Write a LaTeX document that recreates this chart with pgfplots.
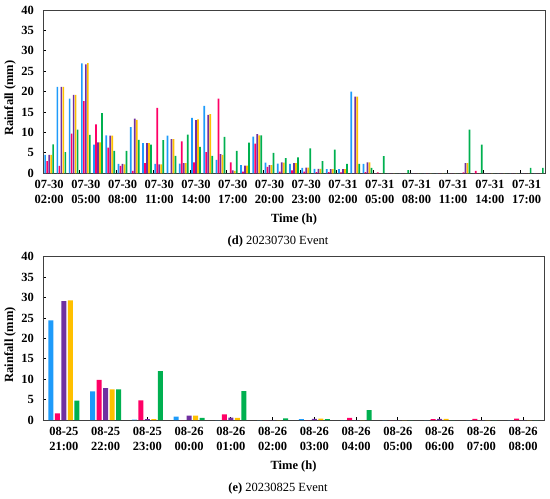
\documentclass[border=0pt]{standalone}
\usepackage{pgfplots}
\pgfplotsset{compat=1.18}
\usepackage{pgfplotstable}
\usepackage{fontspec}
\setmainfont{Liberation Serif}

\definecolor{cblue}{RGB}{30,155,250}
\definecolor{cmag}{RGB}{255,0,102}
\definecolor{cpur}{RGB}{112,48,160}
\definecolor{cora}{RGB}{255,192,0}
\definecolor{cgre}{RGB}{0,176,80}

\pgfplotstableread{
x b m p o g
0 4.5 3.0 4.5 4.5 7.1
1 21.2 1.8 21.2 21.2 5.2
2 18.3 9.75 19.2 19.2 10.7
3 26.9 17.7 26.7 27.0 9.4
4 7.0 12.0 7.6 7.6 14.75
5 9.3 6.3 9.2 9.2 5.5
6 2.3 1.8 2.3 2.2 5.5
7 11.3 0.6 13.4 13.1 8.2
8 7.4 2.5 7.4 7.4 7.0
9 2.3 16.0 2.2 2.2 8.1
10 9.2 0 8.4 8.4 4.3
11 2.4 7.8 2.5 2.5 9.5
12 13.6 2.7 13.0 13.2 6.5
13 16.5 5.2 14.3 14.5 4.3
14 3.3 18.3 4.7 4.5 8.9
15 0 2.7 0.7 0.6 5.5
16 2.0 0.4 1.9 1.9 7.5
17 9.0 7.3 9.6 9.3 9.3
18 2.6 1.6 2.0 2.0 5.0
19 2.4 0.4 2.7 2.6 3.7
20 2.3 0.7 2.5 2.5 3.9
21 1.3 0.4 1.4 1.4 6.1
22 1.1 0.3 1.1 1.1 3.0
23 1.0 0.3 1.0 1.0 5.8
24 1.0 0.2 1.0 1.0 2.3
25 20.0 0 18.8 18.8 2.3
26 2.3 0.3 2.7 2.7 1.3
27 0 0.25 0 0 4.2
28 0 0 0 0 0
29 0 0 0 0 0.8
30 0 0 0 0 0
31 0 0 0 0 0
32 0 0 0 0 0
33 0 0 0 0 0
34 0 0.2 2.5 2.5 10.7
35 0 0.6 0 0 7.0
36 0 0 0 0 0
37 0 0 0 0 0
38 0 0 0 0 0
39 0 0 0 0 1.3
40 0 0 0 0 1.3
}\dataD

\pgfplotstableread{
x b m p o g
0 24.4 1.6 29.1 29.3 4.75
1 7.0 9.8 7.8 7.5 7.5
2 0.1 4.8 0.2 0.2 12.0
3 0.8 0 1.05 1.1 0.5
4 0 1.4 0.6 0.5 7.1
5 0 0 0 0 0.4
6 0.2 0 0.3 0.35 0.2
7 0 0.5 0 0 2.4
8 0 0 0 0 0
9 0 0.2 0.3 0.3 0
10 0 0.25 0 0 0
11 0 0.35 0 0 0
}\dataE

\pgfplotsset{
  panel/.style={
    scale only axis, height=163.3pt,
    ymin=0, ymax=40, ytick={0,5,...,40},
    ybar,
    tick align=inside, tick pos=left,
    major tick length=3pt,
    axis line style={black!75, line width=0.8pt},
    tick style={black, line width=0.8pt},
    ticklabel style={font=\fontsize{12.5}{15}\selectfont\bfseries},
    /pgf/number format/assume math mode=true,
    yticklabel style={inner sep=0pt, xshift=-9pt},
    xticklabel style={align=center, inner sep=0pt, yshift=-7pt},
    xlabel={Time (h)}, ylabel={Rainfall (mm)},
    label style={font=\fontsize{12.5}{15}\selectfont\bfseries},
    xlabel style={at={(axis description cs:0.5,-0.282)}, anchor=center},
    ylabel style={at={(axis description cs:-0.0657,0.46)}, anchor=center},
  }
}

\begin{document}
\begin{tikzpicture}
\path[use as bounding box] (0,0) rectangle (550pt,-499pt);

\begin{axis}[panel, width=502pt, at={(43pt,-173.3pt)}, anchor=south west,
  xmin=-0.5, xmax=40.5, bar width=1.7pt,
  xtick={2.5,5.5,...,38.5}, xticklabels={},
  extra x ticks={0,3,...,39},
  extra x tick style={major tick length=0pt},
  extra x tick labels={{07-30\\02:00},{07-30\\05:00},{07-30\\08:00},{07-30\\11:00},{07-30\\14:00},{07-30\\17:00},{07-30\\20:00},{07-30\\23:00},{07-31\\02:00},{07-31\\05:00},{07-31\\08:00},{07-31\\11:00},{07-31\\14:00},{07-31\\17:00}},
]
\addplot[fill=cblue, draw=none, bar shift=-4pt] table[x=x,y=b]{\dataD};
\addplot[fill=cmag, draw=none, bar shift=-2pt] table[x=x,y=m]{\dataD};
\addplot[fill=cpur, draw=none, bar shift=0pt] table[x=x,y=p]{\dataD};
\addplot[fill=cora, draw=none, bar shift=2pt] table[x=x,y=o]{\dataD};
\addplot[fill=cgre, draw=none, bar shift=4pt] table[x=x,y=g]{\dataD};
\end{axis}

\node[font=\fontsize{12.5}{15}\selectfont] at (278pt,-241pt) {\textbf{(d)} 20230730 Event};

\begin{axis}[panel, width=501pt, at={(43pt,-420pt)}, anchor=south west,
  xmin=-0.5, xmax=11.5, bar width=5pt,
  xtick={0,1,...,11},
  xticklabels={{08-25\\21:00},{08-25\\22:00},{08-25\\23:00},{08-26\\00:00},{08-26\\01:00},{08-26\\02:00},{08-26\\03:00},{08-26\\04:00},{08-26\\05:00},{08-26\\06:00},{08-26\\07:00},{08-26\\08:00}},
]
\addplot[fill=cblue, draw=none, bar shift=-13pt] table[x=x,y=b]{\dataE};
\addplot[fill=cmag, draw=none, bar shift=-6.5pt] table[x=x,y=m]{\dataE};
\addplot[fill=cpur, draw=none, bar shift=0pt] table[x=x,y=p]{\dataE};
\addplot[fill=cora, draw=none, bar shift=6.5pt] table[x=x,y=o]{\dataE};
\addplot[fill=cgre, draw=none, bar shift=13pt] table[x=x,y=g]{\dataE};
\end{axis}

\node[font=\fontsize{12.5}{15}\selectfont] at (278pt,-488pt) {\textbf{(e)} 20230825 Event};
\end{tikzpicture}
\end{document}
